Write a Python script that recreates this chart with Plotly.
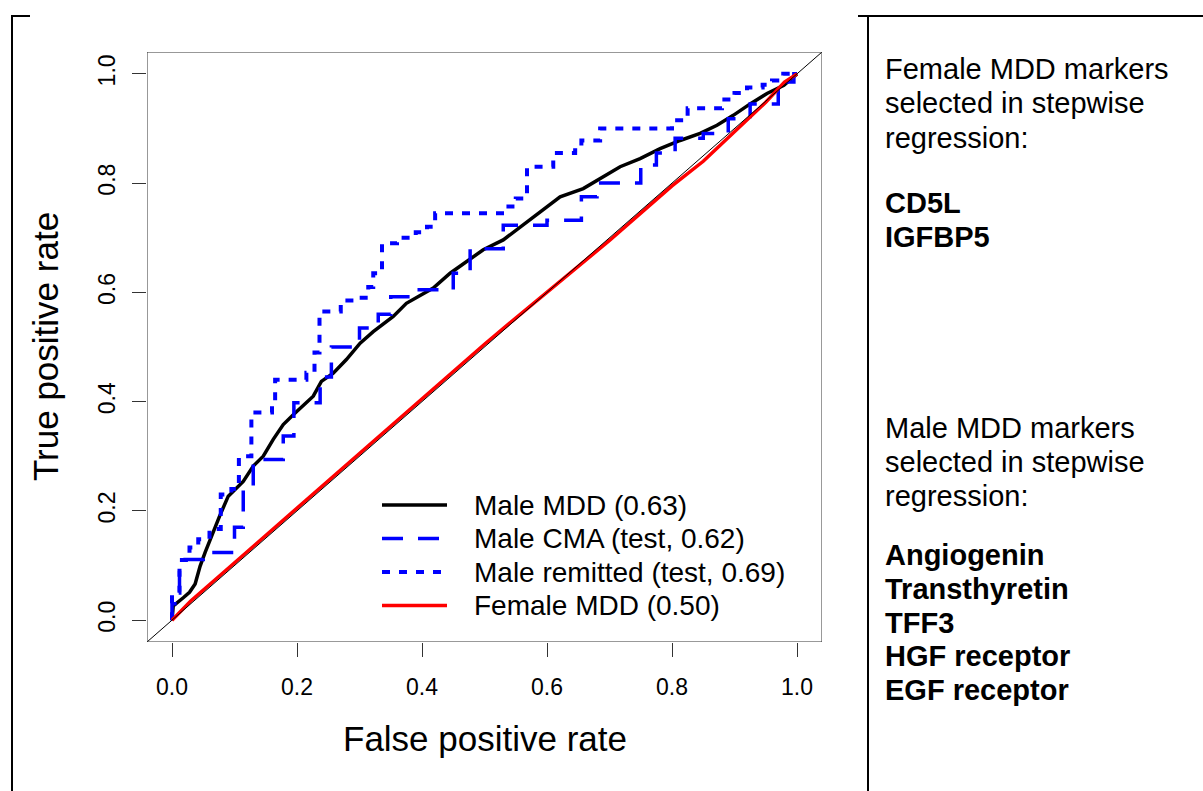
import plotly.graph_objects as go

W, H = 1203, 791
FONT = "Liberation Sans, Arial, sans-serif"

# ---------------- data ----------------
tick_vals = [0.0, 0.2, 0.4, 0.6, 0.8, 1.0]
tick_text = ["0.0", "0.2", "0.4", "0.6", "0.8", "1.0"]

male_mdd_fpr = [0, 0.002, 0.018, 0.028, 0.037, 0.045, 0.053, 0.063, 0.076, 0.090, 0.100, 0.114,
                0.130, 0.146, 0.162, 0.178, 0.194, 0.215, 0.226, 0.239, 0.258, 0.279, 0.301, 0.322,
                0.354, 0.375, 0.397, 0.418, 0.445, 0.498, 0.530, 0.557, 0.594, 0.621, 0.658, 0.690,
                0.717, 0.749, 0.781, 0.813, 0.845, 0.872, 0.898, 0.925, 0.952, 0.979, 1.0]
male_mdd_tpr = [0, 0.026, 0.041, 0.051, 0.066, 0.099, 0.124, 0.154, 0.190, 0.227, 0.239, 0.254,
                0.282, 0.300, 0.331, 0.358, 0.376, 0.398, 0.410, 0.437, 0.452, 0.477, 0.507, 0.528,
                0.556, 0.580, 0.595, 0.608, 0.635, 0.678, 0.696, 0.720, 0.751, 0.775, 0.790, 0.812,
                0.830, 0.845, 0.863, 0.878, 0.891, 0.906, 0.924, 0.945, 0.964, 0.979, 1.0]

male_cma_fpr = [0, 0, 0.012, 0.05, 0.10, 0.114, 0.13, 0.178, 0.195, 0.237, 0.255, 0.30, 0.33, 0.35,
                0.39, 0.45, 0.477, 0.53, 0.60, 0.655, 0.68, 0.75, 0.775, 0.805, 0.85, 0.89, 0.925,
                0.97, 0.995, 1.0]
male_cma_tpr = [0, 0.03, 0.111, 0.124, 0.17, 0.24, 0.294, 0.337, 0.398, 0.445, 0.50, 0.535, 0.56,
                0.592, 0.605, 0.635, 0.68, 0.723, 0.732, 0.775, 0.80, 0.833, 0.855, 0.882, 0.891,
                0.918, 0.945, 0.985, 1.0, 1.0]

male_rem_fpr = [0, 0, 0.012, 0.028, 0.042, 0.06, 0.078, 0.095, 0.107, 0.127, 0.16, 0.165, 0.215,
                0.228, 0.236, 0.27, 0.30, 0.314, 0.322, 0.336, 0.36, 0.39, 0.408, 0.421, 0.535,
                0.55, 0.568, 0.61, 0.645, 0.655, 0.685, 0.80, 0.825, 0.88, 0.90, 0.92, 0.945, 0.96,
                0.978, 1.0]
male_rem_tpr = [0, 0.05, 0.11, 0.133, 0.148, 0.167, 0.23, 0.24, 0.30, 0.38, 0.40, 0.44, 0.453,
                0.49, 0.565, 0.585, 0.59, 0.61, 0.635, 0.69, 0.70, 0.71, 0.72, 0.745, 0.757,
                0.772, 0.83, 0.855, 0.86, 0.878, 0.90, 0.915, 0.937, 0.953, 0.965, 0.975, 0.98,
                0.988, 1.0, 1.0]

female_mdd_fpr = [0, 0.03, 0.08, 0.15, 0.20, 0.25, 0.30, 0.35, 0.40, 0.45, 0.50, 0.55, 0.60, 0.65,
                  0.70, 0.75, 0.80, 0.85, 0.90, 0.95, 0.98, 1.0]
female_mdd_tpr = [0, 0.035, 0.085, 0.155, 0.207, 0.257, 0.305, 0.355, 0.405, 0.455, 0.505, 0.553,
                  0.60, 0.648, 0.695, 0.745, 0.795, 0.84, 0.895, 0.948, 0.985, 1.0]

legend_labels = ["Male MDD (0.63)", "Male CMA (test, 0.62)",
                 "Male remitted (test, 0.69)", "Female MDD (0.50)"]

female_header = ["Female MDD markers", "selected in stepwise", "regression:"]
female_markers = ["CD5L", "IGFBP5"]
male_header = ["Male MDD markers", "selected in stepwise", "regression:"]
male_markers = ["Angiogenin", "Transthyretin", "TFF3", "HGF receptor", "EGF receptor"]

# ---------------- styles ----------------
BLUE = "#0000ff"
styles = [
    dict(color="black", width=3.5, dash="solid"),
    dict(color=BLUE, width=3.5, dash="21px,15px"),
    dict(color=BLUE, width=4, dash="8px,9px"),
    dict(color="#ff0000", width=3.5, dash="solid"),
]


def px(x):
    return x / W


def py(y):
    return 1 - y / H


fig = go.Figure()

series = [(male_mdd_fpr, male_mdd_tpr, "linear"),
          (male_cma_fpr, male_cma_tpr, "hv"),
          (male_rem_fpr, male_rem_tpr, "hv"),
          (female_mdd_fpr, female_mdd_tpr, "linear")]
for (xs, ys, shp), st, name in zip(series, styles, legend_labels):
    fig.add_trace(go.Scatter(x=xs, y=ys, mode="lines", name=name, line_shape=shp,
                             line=dict(color=st["color"], width=st["width"], dash=st["dash"]),
                             showlegend=False, hoverinfo="skip"))

# diagonal reference line
fig.add_trace(go.Scatter(x=[-0.04, 1.04], y=[-0.04, 1.04], mode="lines",
                         line=dict(color="black", width=1), showlegend=False, hoverinfo="skip"))

axis_common = dict(range=[-0.04, 1.04], tickvals=tick_vals, ticktext=tick_text,
                   ticks="outside", ticklen=14, tickwidth=1, tickcolor="#333",
                   showgrid=False, zeroline=False, showline=False,
                   tickfont=dict(family=FONT, size=23, color="black"), fixedrange=True)

fig.update_layout(
    width=W, height=H, margin=dict(l=0, r=0, t=0, b=0),
    paper_bgcolor="white", plot_bgcolor="white",
    xaxis=dict(domain=[px(147), px(822)], ticklabelstandoff=10, **axis_common),
    yaxis=dict(domain=[py(642), py(52)], tickangle=-90, ticklabelstandoff=8, **axis_common),
)

shapes = []
# plot box
shapes.append(dict(type="rect", xref="x", yref="y", x0=-0.04, x1=1.04, y0=-0.04, y1=1.04,
                   line=dict(color="#333", width=1)))
# outer frame lines
frame = dict(color="black", width=2)
shapes += [
    dict(type="line", xref="paper", yref="paper", x0=px(12), x1=px(12), y0=py(16), y1=-0.02, line=frame),
    dict(type="line", xref="paper", yref="paper", x0=px(11), x1=px(30), y0=py(16), y1=py(16), line=frame),
    dict(type="line", xref="paper", yref="paper", x0=px(868), x1=px(868), y0=py(16), y1=-0.02, line=frame),
    dict(type="line", xref="paper", yref="paper", x0=px(858), x1=1.01, y0=py(16), y1=py(16), line=frame),
]

# manual legend
leg_y = [505, 538.5, 572, 605.5]
annotations = []
for st, lab, yy in zip(styles, legend_labels, leg_y):
    shapes.append(dict(type="line", xref="paper", yref="paper", x0=px(382), x1=px(447),
                       y0=py(yy), y1=py(yy),
                       line=dict(color=st["color"], width=st["width"], dash=st["dash"])))
    annotations.append(dict(x=px(472), y=py(yy), xref="paper", yref="paper", text=lab,
                            showarrow=False, xanchor="left", yanchor="middle",
                            font=dict(family=FONT, size=28, color="black")))

# axis titles
annotations.append(dict(x=px(484.5), y=py(738), xref="paper", yref="paper",
                        text="False positive rate", showarrow=False,
                        xanchor="center", yanchor="middle",
                        font=dict(family=FONT, size=35, color="black")))
annotations.append(dict(x=px(45), y=py(347), xref="paper", yref="paper",
                        text="True positive rate", showarrow=False, textangle=-90,
                        xanchor="center", yanchor="middle",
                        font=dict(family=FONT, size=35, color="black")))

# right panel text
def add_lines(lines, ys, bold, size):
    for t, yy in zip(lines, ys):
        annotations.append(dict(x=px(883), y=py(yy), xref="paper", yref="paper",
                                text=f"<b>{t}</b>" if bold else t, showarrow=False,
                                xanchor="left", yanchor="middle",
                                font=dict(family=FONT, size=size, color="black")))

add_lines(female_header, [69, 103.5, 138], False, 29)
add_lines(female_markers, [203, 237], True, 29)
add_lines(male_header, [428, 462, 496], False, 29)
add_lines(male_markers, [555, 589, 622.5, 656, 690], True, 29)

fig.update_layout(shapes=shapes, annotations=annotations)

fig.write_html("out.html")
